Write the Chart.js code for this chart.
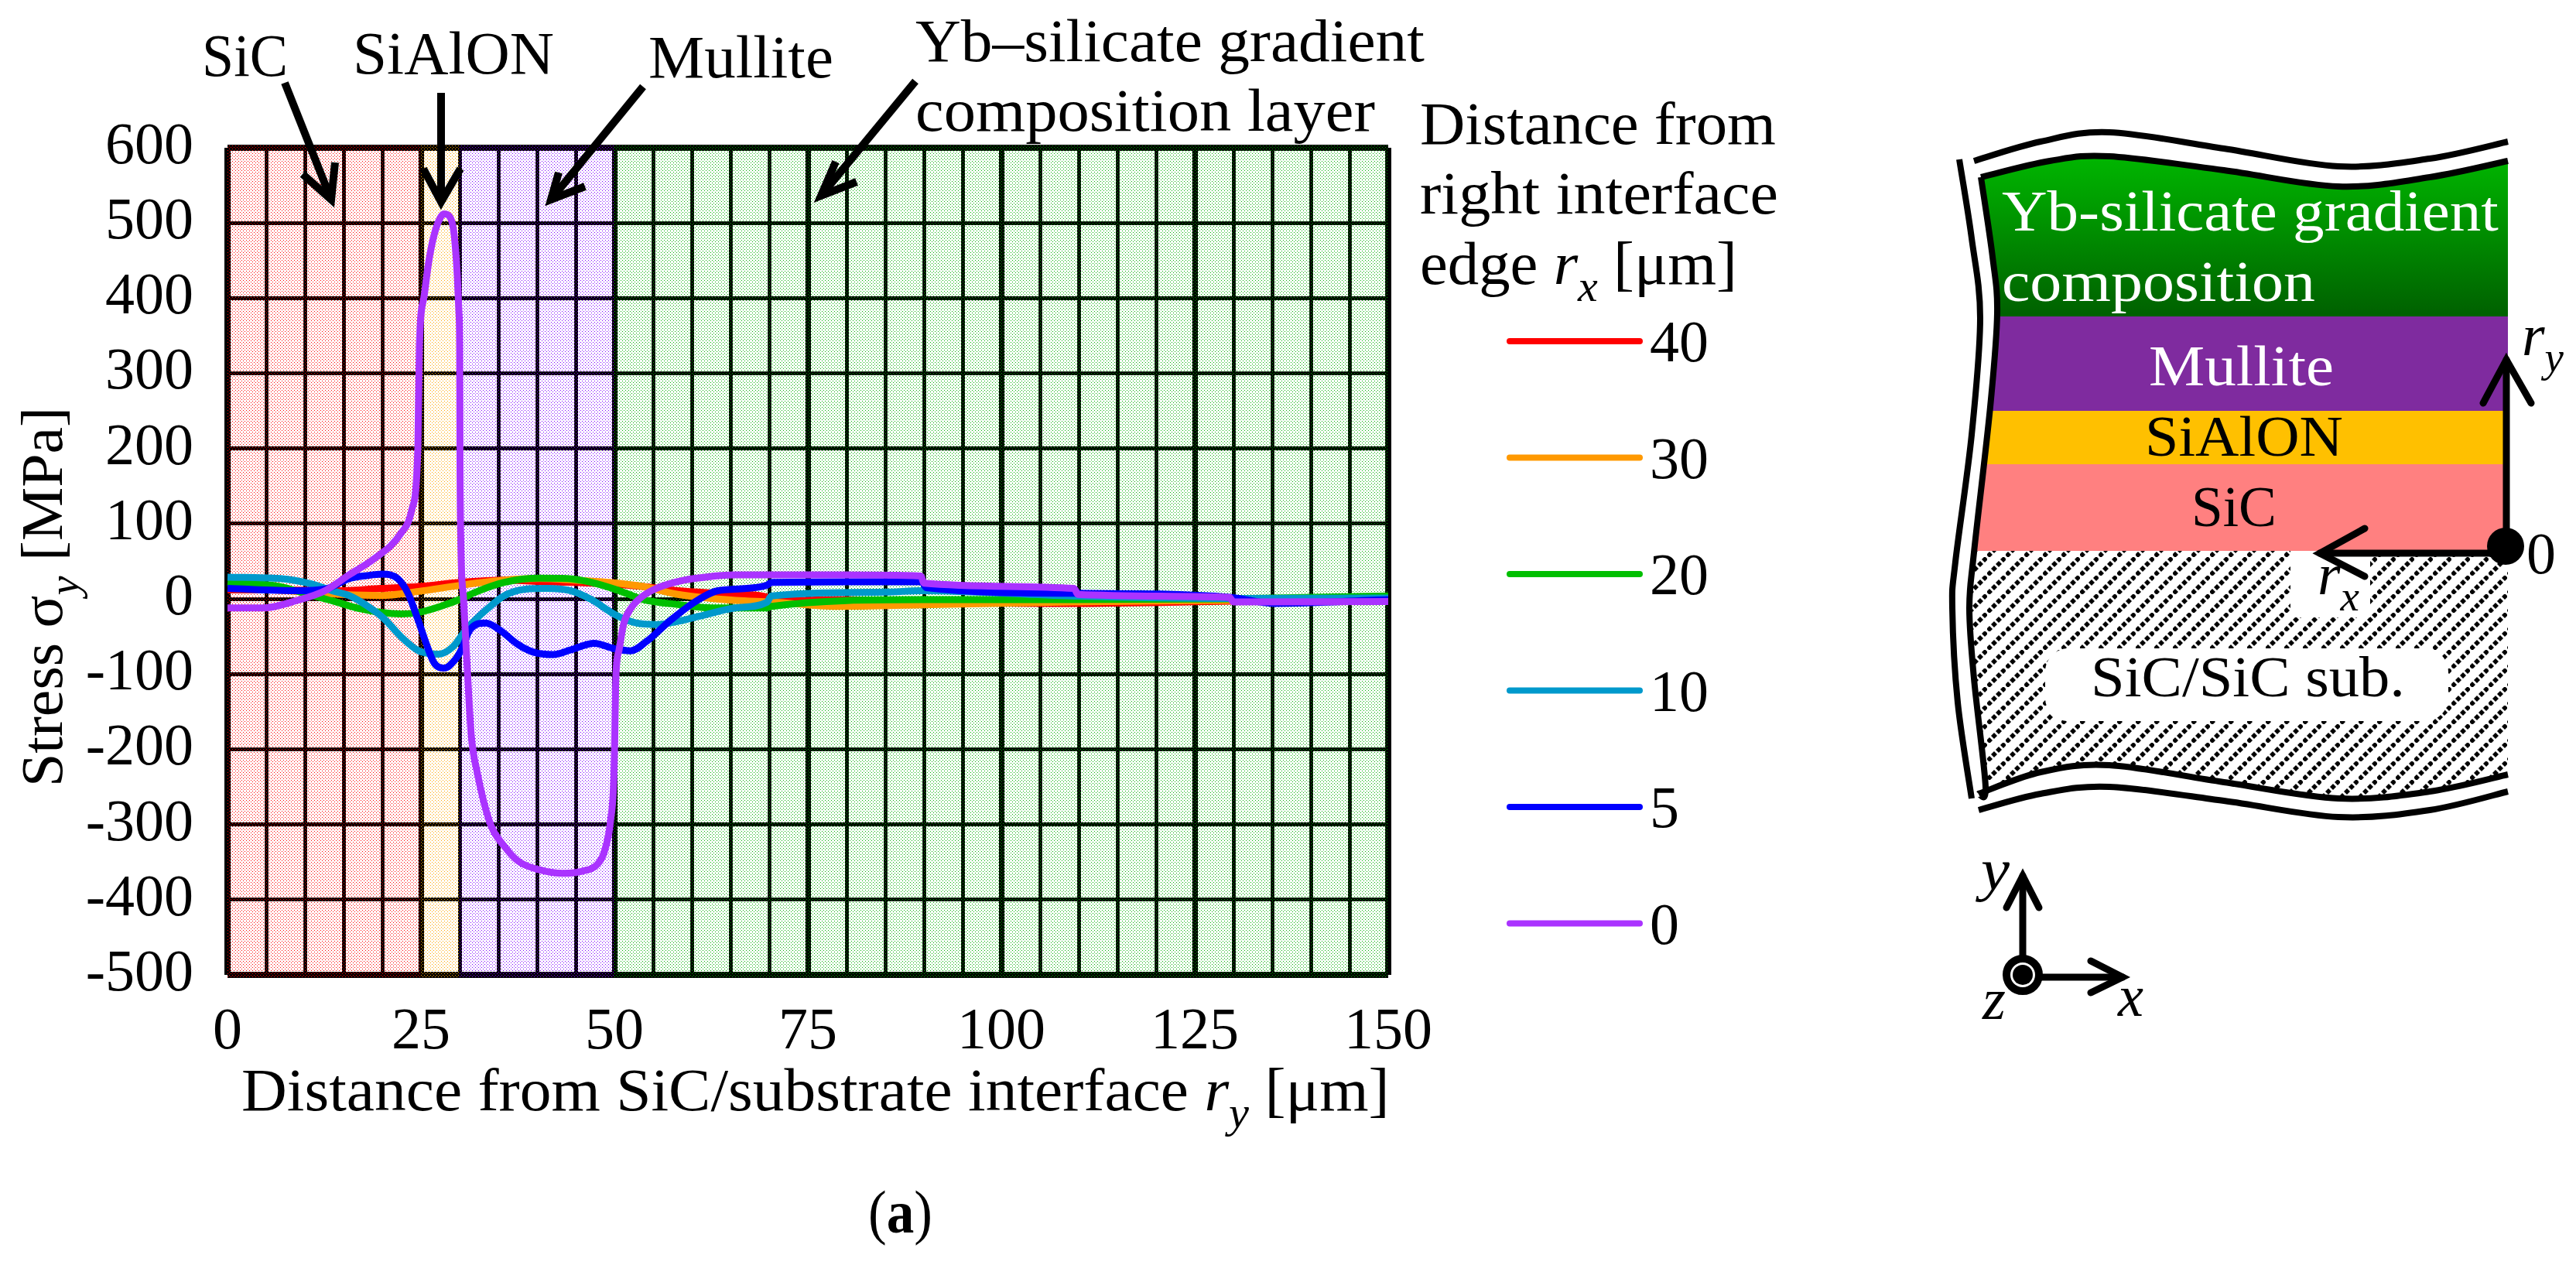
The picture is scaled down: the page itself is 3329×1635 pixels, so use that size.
<!DOCTYPE html>
<html lang="en">
<head>
<meta charset="UTF-8">
<title>Stress distribution</title>
<script src="https://cdn.jsdelivr.net/npm/chart.js@4/dist/chart.umd.min.js"></script>
<style>
  html, body { margin: 0; padding: 0; background: #fff; }
  #wrap { position: relative; width: 3329px; height: 1635px; overflow: hidden; }
  #chart, #over { position: absolute; left: 0; top: 0; }
  #over text { font-family: 'Liberation Serif', serif; white-space: pre; }
</style>
</head>
<body>
<div id="wrap">
  <canvas id="chart" width="3329" height="1635"></canvas>
  <svg id="over" width="3329" height="1635" viewBox="0 0 3329 1635" xmlns="http://www.w3.org/2000/svg"></svg>
</div>
<script>
'use strict';

// Valores: distancia ry [um] y esfuerzo [MPa]
const rxLabels = ['40', '30', '20', '10', '5', '0'];
const rxColors = ['#ff0000', '#ff9900', '#00bf00', '#0099cc', '#0000ff', '#aa33ff'];

const x40 = [0, 6, 14.8, 19.8, 24.7, 30, 35.8, 40.3, 44.8, 49.2, 53.7, 58.2, 62.6, 66.7, 69.7, 70.3, 78.8, 89.7, 109, 129.7, 150];
const y40 = [12, 12, 11, 14, 16.5, 22, 25, 23, 22, 20, 16.5, 11, 8, 6, 2.4, -3, -1, -4, -6, -3, 0];

const x30 = [0, 6, 14.8, 19.8, 24.7, 30, 35.8, 40.3, 44.8, 49.2, 53.7, 58.2, 65.7, 70.3, 78.8, 89.7, 109, 129.7, 150];
const y30 = [14, 12, 6, 4.5, 10, 18, 25, 27, 25, 22, 16.5, 6, -2, -4, -10, -8, -4, -2, 0];

const x20 = [0, 6.8, 10.4, 13.5, 17.1, 19.8, 22.4, 24.7, 27.8, 30, 32.3, 35.8, 40.3, 43.9, 47, 50.6, 53.7, 58.2, 62.6, 69.7, 70.3, 89.7, 109, 129.7, 150];
const y20 = [22, 16.5, 6, -2.4, -13, -18, -20, -18, -9, -0.7, 10, 22, 27.5, 27, 22, 11, -0.7, -7.5, -12, -12, -10, -1, -1, 0, 4];

const x10 = [0, 6.8, 10.8, 13.5, 15.7, 18, 20.2, 22.4, 24.7, 27.3, 29.1, 30.9, 33.6, 35.8, 38.5, 41.2, 44.3, 47, 50.1, 52.8, 55.5, 58.1, 61, 65.6, 69.7, 70.3, 84.9, 89.7, 109.1, 129.7, 150];
const y10 = [29, 27, 20, 11, 4.5, -9, -26, -50, -69, -73.5, -64, -40, -13, 4.5, 13, 14, 11, -0.7, -21, -32, -34, -30, -23, -12, -4.5, 4, 9, 11, 4, 0.7, 1];

const x5 = [0, 9, 12.6, 15.7, 18, 20, 22, 23.3, 24.7, 25.6, 26.7, 28, 29.4, 30.2, 31.4, 33.4, 35, 37.6, 39.6, 42.1, 44.3, 47.4, 49.9, 52.1, 54.1, 57.3, 60.4, 63, 65.5, 69.7, 70.3, 89.7, 90.3, 109.1, 129.7, 135.2, 150];
const y5 = [14, 11, 13, 27, 31, 33, 27, 8, -30, -57, -85, -92, -81, -68, -40, -32, -40, -61, -71, -74, -68, -59, -66, -69, -57, -28, -4, 10, 13, 18, 22, 23, 15, 7.5, 2, -6, -1];

const x0 = [0, 4.6, 9, 12.6, 15.7, 18.9, 22.4, 23.8, 24.6, 24.8, 25.4, 26, 26.7, 27.5, 28, 28.8, 29.3, 29.7, 29.9, 30, 30.05, 30.15, 30.5, 31, 31.5, 32.3, 34, 35.7, 37.6, 40.2, 43.4, 45.9, 47.8, 48.7, 49.5, 49.95, 50.05, 50.2, 50.6, 51.2, 52.1, 53.7, 55.9, 59, 62.6, 65.4, 78.7, 89.6, 90, 109.4, 109.9, 129.5, 130, 150];
const y0 = [-12, -12, -2, 11, 32, 53, 87, 118, 200, 337, 402, 448, 484, 507, 512, 507, 484, 429, 383, 338, 180, 77, 0, -95, -181, -232, -300, -328, -349, -360, -365, -362, -353, -336, -295, -232, -181, -102, -68, -33, -13, 4, 16, 25, 30, 32, 32, 30.5, 21, 14, 6, 2, -4, -3.4];

const xSeries = [x40, x30, x20, x10, x5, x0];
const ySeries = [y40, y30, y20, y10, y5, y0];

// Capas del recubrimiento (limites en um)
const capaLimites = [0, 25, 30, 50, 150];
const capaColores = ['#ff0000', '#ffa500', '#7f00ff', '#00b000'];

const xMax = 150, yMin = -500, yMax = 600;
const FONT = 'Liberation Serif';

// ----------------------------------------------------------------
// Punteado de fondo de cada capa
// ----------------------------------------------------------------
function _punteado(ctx, color) {
  const c = document.createElement('canvas');
  c.width = 4; c.height = 4;
  const p = c.getContext('2d');
  p.fillStyle = color;
  p.fillRect(0, 0, 1, 1);
  p.fillRect(2, 2, 1, 1);
  return ctx.createPattern(c, 'repeat');
}

const capasPlugin = {
  id: 'capas',
  beforeDatasetsDraw(chart) {
    const { ctx, chartArea: a, scales: { x } } = chart;
    ctx.save();
    capaColores.forEach((col, i) => {
      const l = x.getPixelForValue(capaLimites[i]);
      const r = x.getPixelForValue(capaLimites[i + 1]);
      ctx.fillStyle = _punteado(ctx, col);
      ctx.fillRect(l, a.top - 4, r - l, a.bottom - a.top + 8);
    });
    ctx.restore();
  }
};

new Chart(document.getElementById('chart'), {
  type: 'scatter',
  data: {
    datasets: rxLabels.map((l, i) => ({
      label: l,
      data: xSeries[i].map((v, j) => ({ x: v, y: ySeries[i][j] })),
      showLine: true,
      borderColor: rxColors[i],
      borderWidth: 9,
      pointRadius: 0,
      cubicInterpolationMode: 'monotone',
      order: rxLabels.length - i,
      clip: false
    }))
  },
  plugins: [capasPlugin],
  options: {
    responsive: false,
    animation: false,
    devicePixelRatio: 1,
    layout: { padding: { top: 191, right: 1535, left: 0, bottom: 0 } },
    plugins: { legend: { display: false }, tooltip: { enabled: false } },
    scales: {
      x: {
        type: 'linear', min: 0, max: xMax,
        afterFit: s => { s.height = 375; },
        border: { display: false },
        grid: {
          color: '#000', drawTicks: false,
          lineWidth: c => {
            const v = c.tick.value;
            if (v === 0 || v === xMax) return 8;
            return v % 25 === 0 ? 7 : 5;
          }
        },
        ticks: {
          stepSize: 5, autoSkip: false, maxRotation: 0, padding: 29, color: '#000',
          font: { family: FONT, size: 76 },
          callback: v => (v % 25 === 0 ? String(v) : '')
        }
      },
      y: {
        type: 'linear', min: yMin, max: yMax,
        afterFit: s => { s.width = 294; },
        border: { display: false },
        grid: {
          color: '#000', drawTicks: false,
          lineWidth: c => (c.tick.value === yMin || c.tick.value === yMax) ? 8 : 5
        },
        ticks: {
          stepSize: 100, padding: 44, color: '#000',
          font: { family: FONT, size: 76 },
          callback: v => String(v)
        }
      }
    }
  }
});

// ----------------------------------------------------------------
// Textos, flechas y esquema (SVG encima del canvas)
// ----------------------------------------------------------------
const NS = 'http://www.w3.org/2000/svg';
const over = document.getElementById('over');

function el(name, attrs, parent) {
  const e = document.createElementNS(NS, name);
  Object.keys(attrs).forEach(k => e.setAttribute(k, attrs[k]));
  (parent || over).appendChild(e);
  return e;
}

// partes: texto simple, 'i:' cursiva o 's:' subindice cursiva. Ajusta al ancho medido.
function texto(partes, x, y, ancho, size, color, rot) {
  const t = el('text', { x: 0, y: 0, 'font-size': size, fill: color || '#000' });
  let dyPrev = 0;
  [].concat(partes).forEach(p => {
    const tipo = p.slice(0, 2);
    const sub = tipo === 's:';
    const ital = sub || tipo === 'i:';
    const dy = sub ? Math.round(size * 0.28) : 0;
    const ts = el('tspan', { dy: dy - dyPrev }, t);
    if (ital) ts.setAttribute('font-style', 'italic');
    if (tipo === 'b:') ts.setAttribute('font-weight', 'bold');
    if (sub) ts.setAttribute('font-size', Math.round(size * 0.72));
    ts.textContent = (ital || tipo === 'b:') ? p.slice(2) : p;
    dyPrev = dy;
  });
  const k = ancho ? ancho / t.getComputedTextLength() : 1;
  t.setAttribute('transform', `translate(${x} ${y})${rot ? ' rotate(-90)' : ''} scale(${k} 1)`);
  return t;
}

function flecha(x1, y1, tx, ty, b1x, b1y, b2x, b2y, w, capa) {
  const g = { fill: 'none', stroke: '#000', 'stroke-width': w, 'stroke-linecap': capa || 'butt', 'stroke-linejoin': 'miter', 'stroke-miterlimit': 10 };
  el('path', Object.assign({ d: `M${x1} ${y1}L${tx} ${ty}` }, g));
  el('path', Object.assign({ d: `M${b1x} ${b1y}L${tx} ${ty}L${b2x} ${b2y}` }, g));
}

// Curva suave por puntos (Catmull-Rom), sin el M inicial
function curva(p) {
  let d = '';
  for (let i = 0; i < p.length - 1; i++) {
    const a = p[Math.max(i - 1, 0)], b = p[i], c = p[i + 1], e = p[Math.min(i + 2, p.length - 1)];
    d += `C${b[0] + (c[0] - a[0]) / 6} ${b[1] + (c[1] - a[1]) / 6} ${c[0] - (e[0] - b[0]) / 6} ${c[1] - (e[1] - b[1]) / 6} ${c[0]} ${c[1]}`;
  }
  return d;
}
const linea = p => `M${p[0][0]} ${p[0][1]}` + curva(p);

// Rotulos de la grafica
texto(['Stress σ', 's:y', ' [MPa]'], 80, 1017, 491, 76, '#000', true);
texto(['Distance from SiC/substrate interface ', 'i:r', 's:y', ' [μm]'], 312, 1435, 1484, 78);
texto(['(', 'b:a', ')'], 1122, 1593, 83, 78);

texto('SiC', 261, 98, 111, 78);
texto('SiAlON', 456, 95, 260, 78);
texto('Mullite', 838, 100, 239, 78);
texto('Yb–silicate gradient', 1183, 79, 658, 78);
texto('composition layer', 1183, 169, 594, 78);

flecha(368, 107, 428, 258, 391, 225, 433, 210, 10);
flecha(570, 120, 570, 261, 547, 218, 595, 218, 10);
flecha(831, 112, 712, 258, 722, 223, 756, 241, 10);
flecha(1183, 105, 1061, 253, 1080, 209, 1107, 235, 10);

// Leyenda
texto('Distance from', 1835, 186, 460, 78);
texto('right interface', 1835, 276, 463, 78);
texto(['edge ', 'i:r', 's:x', ' [μm]'], 1835, 367, 410, 78);
rxLabels.forEach((l, i) => {
  const y = 441 + i * 150.5;
  el('line', { x1: 1951, y1: y, x2: 2119, y2: y, stroke: rxColors[i], 'stroke-width': 8, 'stroke-linecap': 'round' });
  texto(l, 2132, y + 26, 0, 76);
});

// Esquema de capas
const bordeSup = [[2560, 229], [2649, 208], [2726, 202], [2874, 220], [3022, 241], [3140, 229], [3241, 208]];
const bordeSupExt = [[2551, 208], [2637, 183], [2726, 171], [2874, 192], [3022, 215], [3140, 205], [3241, 183]];
const bordeInf = [[2557, 1026], [2637, 998], [2726, 989], [2874, 1011], [3022, 1032], [3140, 1023], [3241, 1001]];
const bordeInfExt = [[2557, 1047], [2637, 1026], [2726, 1017], [2874, 1035], [3022, 1056], [3140, 1047], [3241, 1023]];
const bordeIzq = [[2560, 229], [2575, 332], [2581, 405], [2572, 526], [2551, 714], [2545, 786], [2551, 877], [2566, 1017], [2557, 1026]];
const bordeIzqExt = [[2532, 206], [2548, 308], [2559, 411], [2548, 562], [2527, 726], [2523, 786], [2530, 908], [2548, 1032]];

const defs = el('defs', {});
const grad = el('linearGradient', { id: 'verde', x1: 0, y1: 0, x2: 0, y2: 1 }, defs);
el('stop', { offset: '0', 'stop-color': '#00cc00' }, grad);
el('stop', { offset: '1', 'stop-color': '#006000' }, grad);
const clip = el('clipPath', { id: 'forma' }, defs);
el('path', {
  d: linea(bordeSup) + 'L3241 1001' + curva(bordeInf.slice().reverse()) + 'L2566 1017' + curva(bordeIzq.slice(0, 8).reverse()) + 'Z'
}, clip);
const hatch = el('pattern', { id: 'rayado', width: 24, height: 24, patternUnits: 'userSpaceOnUse' }, defs);
for (let i = 0; i < 4; i++) {
  const cx = 3 + i * 6, cy = 21 - i * 6;
  el('path', { d: `M${cx - 4} ${cy}L${cx} ${cy - 4}L${cx + 4} ${cy}L${cx} ${cy + 4}Z`, fill: '#000' }, hatch);
}

const capas = el('g', { 'clip-path': 'url(#forma)' });
el('rect', { x: 2500, y: 150, width: 741, height: 259, fill: 'url(#verde)' }, capas);
el('rect', { x: 2500, y: 409, width: 741, height: 122, fill: '#7f2b9f' }, capas);
el('rect', { x: 2500, y: 531, width: 738, height: 69, fill: '#ffc000' }, capas);
el('rect', { x: 2500, y: 600, width: 738, height: 112, fill: '#ff8080' }, capas);
el('rect', { x: 2500, y: 712, width: 741, height: 340, fill: '#fff' }, capas);
el('rect', { x: 2500, y: 712, width: 741, height: 340, fill: 'url(#rayado)' }, capas);
el('rect', { x: 2960, y: 712, width: 103, height: 86, fill: '#fff' }, capas);
el('rect', { x: 2643, y: 838, width: 521, height: 94, rx: 30, fill: '#fff' }, capas);

[bordeSup, bordeSupExt, bordeInf, bordeInfExt, bordeIzq, bordeIzqExt].forEach(b => {
  el('path', { d: linea(b), fill: 'none', stroke: '#000', 'stroke-width': 8, 'stroke-linecap': 'butt' });
});

texto('Yb-silicate gradient', 2587, 298, 642, 74, '#fff');
texto('composition', 2587, 389, 405, 74, '#fff');
texto('Mullite', 2777, 498, 239, 74, '#fff');
texto('SiAlON', 2772, 589, 256, 74);
texto('SiC', 2832, 680, 110, 74);
texto('SiC/SiC sub.', 2702, 900, 406, 74);

flecha(3239, 706, 3239, 465, 3209, 521, 3271, 521, 9, 'round');
flecha(3238, 715, 2998, 715, 3056, 683, 3056, 745, 9, 'round');
el('circle', { cx: 3238, cy: 706, r: 24, fill: '#000' });
texto('0', 3265, 741, 0, 76);
texto(['i:r', 's:y'], 3259, 459, 0, 76);
texto(['i:r', 's:x'], 2995, 768, 0, 76);

// Ejes de coordenadas
flecha(2614, 1240, 2614, 1132, 2593, 1173, 2635, 1173, 9, 'round');
flecha(2636, 1263, 2743, 1263, 2702, 1242, 2702, 1283, 9, 'round');
el('circle', { cx: 2614, cy: 1260, r: 21, fill: '#fff', stroke: '#000', 'stroke-width': 10 });
el('circle', { cx: 2614, cy: 1260, r: 13, fill: '#000' });
texto('i:y', 2560, 1150, 37, 76);
texto('i:z', 2562, 1317, 30, 76);
texto('i:x', 2737, 1313, 33, 76);
</script>
</body>
</html>
